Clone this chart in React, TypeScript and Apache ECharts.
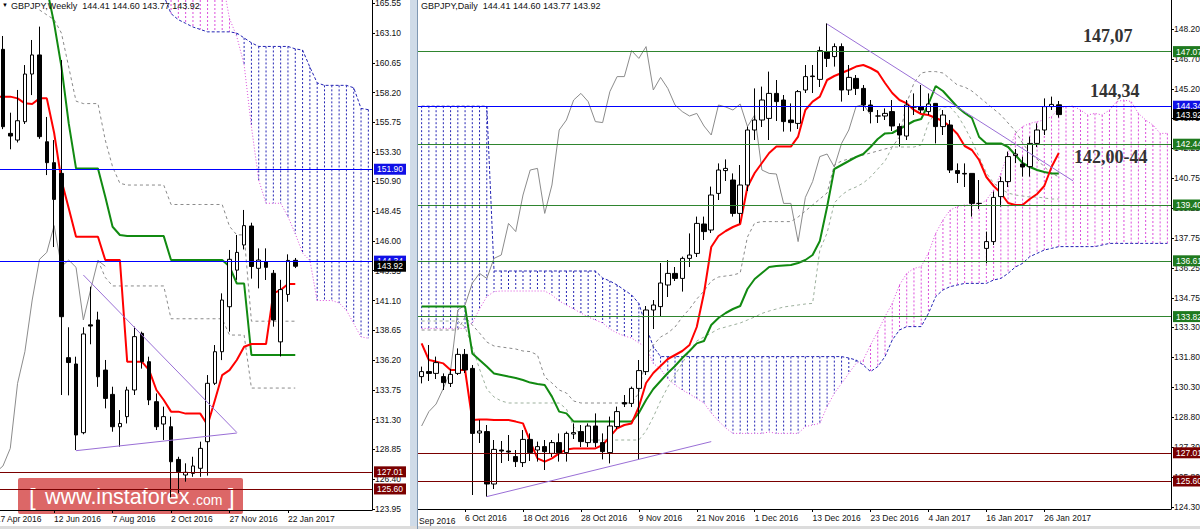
import React, { useEffect, useRef } from 'react';
import * as echarts from 'echarts';

const FONT = '"Liberation Sans", Arial, Helvetica, sans-serif';

const symbolName = 'GBPJPY';
const currentOHLC = [144.41, 144.6, 143.77, 143.92];

// ---------------- WEEKLY ----------------
const weeklyCats = [
  '17 Apr 2016', '24 Apr 2016', '1 May 2016', '8 May 2016', '15 May 2016', '22 May 2016', '29 May 2016', '5 Jun 2016',
  '12 Jun 2016', '19 Jun 2016', '26 Jun 2016', '3 Jul 2016', '10 Jul 2016', '17 Jul 2016', '24 Jul 2016', '31 Jul 2016',
  '7 Aug 2016', '14 Aug 2016', '21 Aug 2016', '28 Aug 2016', '4 Sep 2016', '11 Sep 2016', '18 Sep 2016', '25 Sep 2016',
  '2 Oct 2016', '9 Oct 2016', '16 Oct 2016', '23 Oct 2016', '30 Oct 2016', '6 Nov 2016', '13 Nov 2016', '20 Nov 2016',
  '27 Nov 2016', '4 Dec 2016', '11 Dec 2016', '18 Dec 2016', '25 Dec 2016', '1 Jan 2017', '8 Jan 2017', '15 Jan 2017',
  '22 Jan 2017', '29 Jan 2017',
  '5 Feb 2017', '12 Feb 2017', '19 Feb 2017', '26 Feb 2017', '5 Mar 2017', '12 Mar 2017', '19 Mar 2017', '26 Mar 2017',
  '2 Apr 2017', '9 Apr 2017',
];
const weeklyLabelIdx = [0, 8, 16, 24, 32, 40];
const weeklyYTicks = [123.95, 126.4, 128.85, 131.3, 133.75, 136.2, 138.65, 141.1, 143.55, 146.0, 148.45, 150.9, 153.3, 155.75, 158.2, 160.65, 163.1, 165.55];
const weeklyYRange = [123.87, 165.82];
// weekly candles from 24 Apr 2016 (category 1): [open, high, low, close]
const weeklyOHLC = [
  [161.76, 162.86, 155.2, 155.4], [154.85, 156.55, 153.54, 154.63], [154.3, 158.42, 154.1, 155.89], [155.81, 160.47, 155.62, 159.73],
  [159.73, 162.53, 158.0, 161.3], [161.3, 163.63, 154.4, 154.58], [154.16, 156.2, 151.42, 152.44], [152.44, 154.3, 145.5, 149.42],
  [151.56, 160.88, 133.33, 139.77], [136.4, 138.9, 133.3, 136.0], [135.88, 136.48, 128.8, 130.04], [130.23, 138.9, 130.1, 138.35],
  [139.1, 142.24, 137.5, 139.0], [139.5, 140.18, 134.0, 134.83], [135.38, 136.21, 132.23, 133.05], [133.38, 134.01, 130.31, 130.72],
  [130.72, 132.09, 129.08, 130.99], [131.55, 134.01, 130.99, 133.74], [133.74, 138.95, 133.33, 138.13], [138.4, 138.54, 135.5, 136.07],
  [136.07, 136.48, 132.5, 132.92], [132.78, 133.46, 130.45, 130.72], [130.94, 132.37, 129.63, 131.55], [130.72, 131.55, 124.9, 127.84],
  [128.03, 128.25, 125.24, 127.02], [126.75, 127.71, 126.2, 126.97], [126.88, 128.25, 126.6, 127.49], [127.3, 129.49, 126.6, 128.94],
  [129.49, 134.97, 126.7, 134.29], [134.29, 137.44, 134.15, 136.89], [136.89, 141.69, 136.2, 141.14], [140.59, 145.26, 138.54, 144.49],
  [143.6, 146.49, 142.8, 145.06], [145.67, 148.55, 145.3, 147.26], [147.23, 147.5, 142.9, 143.9], [143.75, 145.39, 142.1, 144.43],
  [144.3, 145.39, 142.79, 143.83], [143.34, 143.61, 138.95, 139.5], [137.7, 142.8, 136.5, 142.0], [141.6, 144.9, 141.0, 144.4],
  [144.41, 144.6, 143.77, 143.92],
];
const weeklyTenkan = [
  157.87, 157.87, 157.87, 157.73, 157.32, 157.27, 157.73, 157.73, 154.9, 151.0, 148.7, 146.35, 146.35, 146.35, 146.35,
  144.43, 144.43, 144.43, 136.07, 136.07, 136.07, 135.38, 133.74, 132.92, 131.96, 131.96, 131.8, 131.8, 131.8, 130.86,
  132.9, 134.97, 135.38, 136.21, 137.3, 137.52, 137.52, 137.52, 141.69, 141.97, 142.46, 142.46,
];
const weeklyKijunStart = 7;
const weeklyKijun = [
  166.8, 163.9, 160.34, 155.67, 151.97, 151.97, 151.97, 151.97, 149.64, 147.17, 146.49, 146.4, 146.4, 146.4, 146.4,
  146.4, 146.4, 144.43, 144.43, 144.43, 144.43, 144.43, 144.43, 144.43, 144.43, 143.9, 142.5, 142.5, 136.62, 136.62,
  136.62, 136.62, 136.62, 136.62, 136.62,
];
const weeklyCloudStart = 23;
const weeklySpanBlue = [
  166.2, 164.7, 164.2, 163.9, 163.6, 163.4, 163.2, 163.2, 163.2, 163.2, 163.1, 162.7, 162.3, 162.0, 162.0, 162.0, 162.0,
  162.0, 161.8, 161.7, 160.3, 159.0, 158.8, 158.8, 158.8, 158.8, 158.6, 156.9, 156.8,
];
const weeklySpanPink = [
  168.5, 167.5, 167.5, 167.5, 167.5, 167.5, 167.5, 167.5, 167.5, 164.3, 162.8, 160.5, 155.4, 151.0, 149.1, 149.1, 149.1,
  148.0, 146.6, 145.0, 144.4, 141.1, 141.1, 141.1, 140.9, 140.3, 139.2, 138.1, 138.0,
];
const weeklyDash1Start = 6;
const weeklyDash1 = [
  165.0, 164.6, 164.2, 163.1, 160.3, 157.5, 157.3, 157.3, 157.3, 154.3, 152.1, 150.74, 150.6, 150.6, 150.6, 150.6, 150.6,
  150.6, 149.0, 149.0, 149.0, 149.0, 149.0, 149.0, 149.0, 149.0, 147.2, 146.5, 146.5, 139.4, 139.4, 139.4, 139.4, 139.4,
  139.4, 139.4,
];
const weeklyDash2Start = 14;
const weeklyDash2 = [
  144.4, 143.0, 142.3, 142.3, 142.3, 142.3, 142.3, 142.3, 142.3, 142.3, 139.6, 139.6, 139.6, 139.6, 139.6, 139.6, 139.6,
  139.6, 138.26, 138.26, 138.26, 133.9, 133.9, 133.9, 133.9, 133.9, 133.9, 133.9,
];
const weeklyBlueLevels = [151.9, 144.34];
const weeklyRedLevels = [127.01, 125.6];
const weeklyTrendLines = [[12, 143.2, 33, 130.25], [11, 128.75, 33, 130.2]];

// ---------------- DAILY ----------------
const dailyMonths: [string, number[]][] = [
  ['Sep 2016', [28, 29, 30]],
  ['Oct 2016', [3, 4, 5, 6, 7, 10, 11, 12, 13, 14, 17, 18, 19, 20, 21, 24, 25, 26, 27, 28, 31]],
  ['Nov 2016', [1, 2, 3, 4, 7, 8, 9, 10, 11, 14, 15, 16, 17, 18, 21, 22, 23, 24, 25, 28, 29, 30]],
  ['Dec 2016', [1, 2, 5, 6, 7, 8, 9, 12, 13, 14, 15, 16, 19, 20, 21, 22, 23, 26, 27, 28, 29, 30]],
  ['Jan 2017', [2, 3, 4, 5, 6, 9, 10, 11, 12, 13, 16, 17, 18, 19, 20, 23, 24, 25, 26, 27, 30]],
];
const dailyFutureCount = 15;
const dailyLabelIdx = [6, 14, 22, 30, 38, 46, 54, 62, 70, 78, 86];
const dailyYTicks = [124.3, 125.8, 127.3, 128.8, 130.3, 131.8, 133.3, 134.75, 136.25, 137.75, 139.25, 140.75, 142.25, 143.75, 145.2, 146.7, 148.2];
const dailyYRange = [124.2, 149.65];
const dailyOHLC = [
  [130.82, 131.32, 130.48, 131.07], [131.07, 132.4, 130.6, 130.98], [130.98, 131.82, 130.7, 131.52], [130.82, 130.98, 130.15, 130.52],
  [130.48, 131.2, 130.3, 130.93], [130.98, 132.23, 130.9, 131.93], [131.93, 132.2, 131.0, 131.15], [131.23, 131.4, 124.9, 127.98],
  [128.0, 128.65, 127.5, 128.1], [128.07, 128.4, 124.82, 125.45], [125.45, 127.65, 125.2, 127.18], [127.15, 127.6, 126.5, 127.1],
  [127.1, 127.9, 126.6, 127.05], [126.82, 127.15, 126.3, 126.57], [126.52, 128.15, 126.3, 127.68], [127.68, 127.98, 126.6, 127.02],
  [127.15, 127.57, 126.57, 127.32], [127.32, 127.65, 126.15, 127.07], [126.98, 127.65, 126.8, 127.52], [127.52, 127.98, 126.57, 127.02],
  [127.02, 128.07, 126.57, 127.98], [127.95, 128.48, 127.7, 128.02], [128.07, 128.4, 127.3, 127.57], [127.52, 128.48, 127.3, 128.35],
  [128.35, 128.98, 127.3, 127.52], [127.52, 127.98, 126.68, 127.07], [127.02, 128.82, 126.48, 128.35], [128.32, 129.32, 128.2, 129.07],
  [129.52, 129.9, 129.3, 129.45], [129.48, 130.32, 129.3, 130.23], [130.23, 131.65, 126.65, 131.12], [131.07, 134.35, 130.9, 134.15],
  [134.15, 134.65, 133.2, 134.4], [134.32, 136.5, 133.8, 135.5], [135.4, 136.65, 134.8, 135.98], [135.98, 136.3, 135.6, 135.73],
  [135.73, 136.82, 135.07, 136.73], [136.73, 137.98, 136.3, 136.9], [136.98, 138.82, 136.8, 138.48], [138.45, 138.82, 137.65, 138.07],
  [138.15, 140.32, 138.0, 139.9], [139.98, 141.48, 139.65, 141.15], [141.12, 141.68, 140.6, 141.23], [140.65, 140.98, 138.82, 138.98],
  [138.98, 141.4, 138.48, 140.4], [140.4, 143.32, 140.1, 143.15], [143.15, 145.23, 142.65, 143.65], [143.65, 145.32, 143.3, 144.65],
  [143.73, 146.07, 142.65, 144.98], [144.98, 145.65, 143.6, 144.57], [144.65, 144.9, 143.07, 143.57], [143.65, 144.48, 143.07, 143.52],
  [143.48, 145.15, 143.2, 145.07], [145.15, 146.4, 145.0, 145.82], [145.85, 146.4, 145.0, 145.82], [145.68, 147.32, 145.3, 147.12],
  [147.07, 148.48, 146.3, 146.73], [146.82, 147.48, 146.32, 147.32], [147.32, 147.48, 144.57, 145.15], [145.15, 146.4, 144.9, 145.78],
  [145.73, 145.9, 144.9, 145.23], [145.23, 145.4, 144.1, 144.4], [144.4, 144.65, 143.48, 144.07], [143.85, 144.15, 143.5, 143.85],
  [143.85, 144.23, 143.65, 143.98], [144.07, 144.65, 143.1, 143.35], [143.32, 143.48, 142.32, 142.9], [142.85, 144.65, 142.65, 144.4],
  [144.3, 144.98, 143.9, 144.3], [144.32, 145.4, 144.0, 144.15], [144.07, 144.98, 143.9, 144.45], [144.48, 144.5, 142.48, 143.32],
  [143.32, 144.15, 142.9, 143.9], [143.4, 143.65, 141.0, 141.15], [141.12, 141.48, 140.5, 140.98], [140.98, 141.48, 140.3, 140.95],
  [140.98, 140.98, 138.82, 139.48], [139.48, 140.65, 139.2, 139.48], [137.23, 138.07, 136.48, 137.57], [137.57, 140.07, 137.4, 139.78],
  [139.82, 140.82, 139.32, 140.57], [140.57, 142.07, 140.3, 141.82], [141.87, 142.2, 141.5, 141.95], [141.45, 141.82, 140.82, 141.3],
  [141.32, 142.82, 140.82, 142.48], [142.48, 143.48, 142.3, 143.15], [143.15, 144.73, 142.9, 144.32], [144.32, 144.82, 144.15, 144.43],
  [144.41, 144.6, 143.77, 143.92],
];
const dailyTenkan = [
  132.48, 131.65, 131.57, 131.48, 131.15, 131.15, 131.15, 128.65, 128.68, 128.68, 128.65, 128.65, 128.65, 128.57, 128.48,
  127.57, 126.73, 126.57, 126.73, 126.98, 127.18, 127.23, 127.23, 127.23, 127.23, 127.4, 127.82, 128.23, 128.4, 128.48,
  129.3, 130.5, 131.0, 131.35, 131.7, 131.9, 132.1, 132.4, 133.3, 135.0, 137.3, 137.85, 138.1, 138.3, 138.45, 140.3, 141.0,
  141.5, 142.0, 142.32, 142.32, 142.32, 142.82, 144.15, 144.57, 144.82, 145.65, 145.85, 146.0, 146.15, 146.32, 146.4,
  146.25, 146.05, 145.5, 145.0, 144.65, 144.48, 144.15, 143.95, 143.9, 143.75, 143.6, 143.32, 142.95, 142.35, 142.15,
  141.65, 140.8, 140.35, 140.0, 139.5, 139.4, 139.4, 139.7, 139.95, 140.35, 141.3, 142.0,
];
const dailyKijun = [
  134.32, 134.32, 134.32, 134.32, 134.32, 134.32, 134.32, 131.98, 131.65, 131.32, 130.98, 130.9, 130.82, 130.75, 130.65,
  130.52, 130.45, 130.4, 129.82, 129.07, 128.98, 128.57, 128.57, 128.57, 128.57, 128.57, 128.57, 128.57, 128.57, 128.57,
  129.0, 129.65, 130.2, 130.6, 131.0, 131.35, 131.75, 132.1, 132.48, 132.6, 133.4, 133.75, 134.0, 134.2, 134.35, 135.2,
  135.7, 136.0, 136.3, 136.35, 136.38, 136.4, 136.5, 136.65, 136.9, 137.6, 139.3, 141.2, 141.4, 141.6, 141.8, 141.95,
  142.3, 142.7, 142.98, 143.0, 143.2, 143.4, 143.6, 143.7, 144.45, 145.35, 145.1, 144.7, 144.3, 144.0, 143.75, 142.8,
  142.48, 142.48, 142.48, 142.3, 141.9, 141.5, 141.3, 141.15, 141.05, 140.98, 140.98,
];
const dailySpanBlue = [
  144.34, 144.34, 144.34, 144.34, 144.34, 144.34, 144.34, 144.34, 144.34, 144.34,
  136.1, 136.1, 136.1, 136.1, 136.1, 136.1, 136.1, 136.1, 136.1, 136.1, 136.1, 136.1, 136.1, 136.1, 136.1,
  135.75, 135.6, 135.4, 135.15, 134.9, 134.48, 133.32, 132.32,
  131.82, 131.82, 131.82, 131.82, 131.82, 131.82, 131.82, 131.82, 131.82, 131.82, 131.82, 131.82, 131.82, 131.82, 131.82,
  131.82, 131.82, 131.82, 131.82, 131.82, 131.82, 131.82, 131.82, 131.82, 131.82, 131.82,
  131.75, 131.65, 131.4, 131.07,
  131.32, 131.82, 132.65, 133.15, 133.32, 133.32, 133.32,
  133.98, 134.82, 135.15, 135.32, 135.4,
  135.48, 135.48, 135.48, 135.48,
  135.65, 135.73, 135.98, 136.3, 136.48, 136.82, 136.98, 137.15, 137.23,
  137.32, 137.32, 137.32, 137.32, 137.32, 137.32,
  137.4,
  137.48, 137.48, 137.48, 137.48, 137.48, 137.48, 137.48, 137.48, 137.48,
];
const dailySpanPink = [
  133.23, 133.23, 133.23, 133.23, 133.23, 133.23, 133.23,
  133.5, 134.2, 134.82, 135.07,
  135.1, 135.1, 135.1, 135.1, 135.1, 135.1, 135.1,
  134.9, 134.6, 134.4, 134.2, 134.0, 133.8, 133.65, 133.5, 133.2, 133.0, 132.85, 132.75, 132.5, 132.3,
  131.48, 131.2, 130.7, 130.4, 130.15, 129.95, 129.73, 129.5, 129.0, 128.6, 128.25,
  127.98, 127.98, 127.98, 127.98, 127.98, 128.05, 127.98, 127.98, 127.98, 127.98,
  128.32, 128.4, 128.48, 129.32, 129.98, 130.48, 130.98, 131.48, 131.65, 132.4, 133.07, 133.82, 134.48, 135.4, 135.98,
  136.23, 136.32,
  137.0, 137.98, 138.65, 139.15, 139.32, 139.4, 139.4, 139.4, 139.65, 140.15, 140.98, 141.98, 142.98, 143.32, 143.48,
  143.57, 143.65, 143.82,
  144.23, 144.32, 144.35, 144.15, 143.9, 143.98, 143.9, 144.15, 144.57, 144.65, 144.57, 143.98, 143.65, 143.4, 142.98,
  142.98,
];
const dailyDash1 = [
  133.15, 133.15, 133.15, 133.15, 133.15, 133.15, 133.8, 133.4, 133.0, 132.55, 132.35, 132.3, 132.25, 132.2, 132.1,
  132.07, 131.9, 130.8, 130.5, 130.15, 130.0, 129.6, 129.5, 129.5, 129.5, 129.5, 129.5, 129.5, 129.5, 129.5, 130.0,
  131.8, 132.4, 132.8, 133.0, 133.3, 133.8, 134.2, 134.7, 135.1, 135.6, 135.8, 135.85, 135.9, 136.0, 137.8, 138.5,
  138.57, 138.57, 138.57, 138.57, 138.57, 138.8, 139.1, 139.4, 139.7, 140.0, 141.4, 141.6, 141.7, 141.8, 141.9, 142.0,
  142.1, 142.2, 142.3, 142.8, 144.5, 145.5, 146.0, 146.07, 146.07, 146.0, 145.7, 145.4, 145.3, 145.1, 144.8, 144.5,
  144.2, 143.9, 143.5, 143.1, 142.5, 142.0, 141.7, 141.3, 141.0, 140.8,
];
const dailyDash2 = [
  133.6, 133.6, 133.6, 133.6, 133.6, 133.6, 133.3, 132.3, 131.2, 130.2, 129.8, 129.6, 129.5, 129.5, 129.5, 129.5, 129.5,
  129.5, 129.5, 129.5, 129.2, 128.3, 127.9, 127.65, 127.65, 127.65, 127.65, 127.65, 127.65, 127.65, 127.65, 128.1, 128.8,
  129.6, 130.3, 130.9, 131.5, 132.1, 132.6, 132.8, 133.0, 133.2, 133.3, 133.4, 133.5, 133.65, 133.8, 133.98, 134.1,
  134.2, 134.3, 134.35, 134.4, 134.45, 134.48, 137.15, 138.0, 139.5, 139.9, 140.15, 140.3, 140.5, 140.8, 141.2, 141.6,
  142.3, 142.3, 142.3, 142.3, 142.4, 143.5, 144.0, 144.3, 144.3, 143.9, 143.3, 142.6, 141.8, 141.0, 140.5, 140.2,
  140.0, 139.9, 139.85, 139.8, 139.8, 139.75, 139.7, 139.7,
];
const dailyGreenLevels = [147.07, 142.44, 139.4, 136.61, 133.82];
const dailyBlueLevels = [144.34];
const dailyRedLevels = [127.01, 125.6];
const dailyTrendLines = [[56, 148.45, 90, 140.6], [9, 124.82, 40, 127.57]];
const dailyNotes = ['147,07', '144,34', '142,00-44'];

// ---------------- helpers ----------------
const C_RED = '#ff0000';
const C_KIJUN = '#118a11';
const C_CHIKOU = '#8c8c8c';
const C_BLUE = '#2424b4';
const C_PINK = '#dc4fdc';
const C_LEVEL_BLUE = '#0000ff';
const C_LEVEL_RED = '#7a0000';
const C_LEVEL_GREEN = '#2f852f';
const C_TREND = '#9a6fd6';

const pad = (len: number, start: number, vals: number[]) => {
  const a: any[] = new Array(len).fill('-');
  vals.forEach((v, j) => { if (start + j < len) a[start + j] = v; });
  return a;
};

const hatchData = (blue: any[], pink: any[], lo: number, hi: number) => {
  const out: number[][] = [];
  for (let k = 0; k < blue.length; k++) {
    const a = blue[k];
    const b = pink[k];
    if (typeof a !== 'number' || typeof b !== 'number') continue;
    const top = Math.min(Math.max(a, b), hi);
    const bot = Math.max(Math.min(a, b), lo);
    if (top <= bot) continue;
    out.push([k, top, bot, a >= b ? 1 : 0]);
  }
  return out;
};

const hatchSeries = (xi: number, data: number[][]) => ({
  type: 'custom',
  xAxisIndex: xi,
  yAxisIndex: xi,
  silent: true,
  clip: true,
  z: 1,
  encode: { x: 0, y: [1, 2] },
  data,
  renderItem: (params: any, api: any) => {
    const p1 = api.coord([api.value(0), api.value(1)]);
    const p2 = api.coord([api.value(0), api.value(2)]);
    return {
      type: 'line',
      shape: { x1: p1[0], y1: p1[1], x2: p2[0], y2: p2[1] },
      style: { stroke: api.value(3) ? C_BLUE : C_PINK, lineWidth: 1, lineDash: [2, 2], fill: null },
    };
  },
});

const lineSeries = (xi: number, data: any[], color: string, width: number, dash?: number[], extra: any = {}) => ({
  type: 'line',
  xAxisIndex: xi,
  yAxisIndex: xi,
  data,
  symbol: 'none',
  showSymbol: false,
  silent: true,
  clip: true,
  z: 3,
  lineStyle: { color, width, type: dash ? dash : 'solid' },
  ...extra,
});

const levelItem = (v: number, color: string, bg: string) => ({
  yAxis: v,
  lineStyle: { color, width: 1, type: 'solid' },
  label: { backgroundColor: bg },
});

const trendItems = (lines: number[][]) =>
  lines.map((t) => [
    { coord: [t[0], t[1]], lineStyle: { color: C_TREND, width: 1, type: 'solid' }, label: { show: false } },
    { coord: [t[2], t[3]], label: { show: false } },
  ]);

const markLineOf = (items: any[]) => ({
  silent: true,
  symbol: ['none', 'none'],
  animation: false,
  label: {
    show: true,
    position: 'end',
    distance: 2,
    formatter: (p: any) => Number(p.value).toFixed(2),
    color: '#ffffff',
    fontSize: 8.5,
    fontFamily: FONT,
    padding: [1, 3, 0, 3],
    lineHeight: 10,
  },
  data: items,
});

const xAxisOf = (gi: number, cats: string[], labelIdx: number[]) => ({
  type: 'category',
  gridIndex: gi,
  data: cats,
  boundaryGap: true,
  axisLine: { show: true, onZero: false, lineStyle: { color: '#000', width: 1 } },
  axisTick: {
    show: true,
    alignWithLabel: true,
    length: 3,
    interval: (i: number) => labelIdx.includes(i),
    lineStyle: { color: '#000' },
  },
  axisLabel: {
    interval: (i: number) => labelIdx.includes(i),
    align: 'left',
    margin: 4,
    fontSize: 8.5,
    fontFamily: FONT,
    color: '#111',
  },
  splitLine: { show: false },
});

const yAxisOf = (gi: number, range: number[], ticks: number[]) => ({
  type: 'value',
  gridIndex: gi,
  position: 'right',
  min: range[0],
  max: range[1],
  scale: true,
  axisLine: { show: true, onZero: false, lineStyle: { color: '#000', width: 1 } },
  axisTick: { show: true, length: 3, customValues: ticks, lineStyle: { color: '#000' } },
  axisLabel: {
    show: true,
    customValues: ticks,
    formatter: (v: number) => v.toFixed(2),
    fontSize: 8.5,
    fontFamily: FONT,
    color: '#111',
    margin: 3,
  },
  splitLine: { show: false },
});

function buildOption() {
  const wLen = weeklyCats.length;
  const dailyDates = dailyMonths.flatMap(([m, ds]) => ds.map((d) => `${d} ${m}`));
  const dailyCats = [...dailyDates, ...Array.from({ length: dailyFutureCount }, (_, j) => `+${j + 1}`)];
  const dLen = dailyCats.length;

  const wCandles = [['-', '-', '-', '-'], ...weeklyOHLC.map(([o, h, l, c]) => [o, c, l, h])];
  const wCloses = ['-', ...weeklyOHLC.map((r) => r[3])];
  const wChikou = wCloses.slice(26).filter((v) => v !== '-');
  const wBlue = pad(wLen, weeklyCloudStart, weeklySpanBlue);
  const wPink = pad(wLen, weeklyCloudStart, weeklySpanPink);

  const dCandles = dailyOHLC.map(([o, h, l, c]) => [o, c, l, h]);
  const dChikou = dailyOHLC.slice(26).map((r) => r[3]);
  const dBlue = dailySpanBlue.slice(0, dLen);
  const dPink = dailySpanPink.slice(0, dLen);

  const cur = currentOHLC[3];
  const ohlcText = currentOHLC.map((v) => v.toFixed(2)).join(' ');

  const candleStyle = {
    color: '#ffffff',
    color0: '#000000',
    borderColor: '#000000',
    borderColor0: '#000000',
    borderWidth: 1,
  };

  const weeklyLevels = [
    ...weeklyBlueLevels.map((v) => levelItem(v, C_LEVEL_BLUE, '#1010e6')),
    ...weeklyRedLevels.map((v) => levelItem(v, C_LEVEL_RED, '#7a0000')),
    levelItem(cur, 'rgba(0,0,0,0)', '#000000'),
  ];
  const dailyLevels = [
    ...dailyGreenLevels.map((v) => levelItem(v, C_LEVEL_GREEN, '#1f7a1f')),
    ...dailyBlueLevels.map((v) => levelItem(v, C_LEVEL_BLUE, '#1010e6')),
    ...dailyRedLevels.map((v) => levelItem(v, C_LEVEL_RED, '#7a0000')),
    levelItem(cur, 'rgba(0,0,0,0)', '#000000'),
  ];

  const noteStyle = { font: 'bold 18px "Liberation Serif", "Times New Roman", serif', fill: '#333333' };
  const notePos = [[1083, 36], [1090, 91], [1074, 157]];

  return {
    animation: false,
    backgroundColor: '#ffffff',
    textStyle: { fontFamily: FONT },
    title: [
      {
        text: `${symbolName},Weekly  ${ohlcText}`,
        left: 11,
        top: 0,
        padding: [1, 0, 0, 0],
        textStyle: { fontSize: 9, fontWeight: 'normal', color: '#111', fontFamily: FONT },
      },
      {
        text: `${symbolName},Daily  ${ohlcText}`,
        left: 421,
        top: 0,
        padding: [1, 0, 0, 0],
        textStyle: { fontSize: 9, fontWeight: 'normal', color: '#111', fontFamily: FONT },
      },
    ],
    grid: [
      { left: -8, top: 0, width: 380, height: 510, outerBoundsMode: 'none', containLabel: false },
      { left: 418, top: 0, width: 753, height: 509, outerBoundsMode: 'none', containLabel: false },
    ],
    xAxis: [xAxisOf(0, weeklyCats, weeklyLabelIdx), xAxisOf(1, dailyCats, dailyLabelIdx)],
    yAxis: [yAxisOf(0, weeklyYRange, weeklyYTicks), yAxisOf(1, dailyYRange, dailyYTicks)],
    series: [
      // weekly
      hatchSeries(0, hatchData(wBlue, wPink, weeklyYRange[0], weeklyYRange[1])),
      lineSeries(0, wBlue, C_BLUE, 1, [3, 2]),
      lineSeries(0, wPink, C_PINK, 1, [1, 2]),
      lineSeries(0, pad(wLen, weeklyDash1Start, weeklyDash1), '#8a8a8a', 1, [3, 3]),
      lineSeries(0, pad(wLen, weeklyDash2Start, weeklyDash2), '#8a8a8a', 1, [3, 3]),
      lineSeries(0, wChikou, C_CHIKOU, 1),
      lineSeries(0, pad(wLen, weeklyKijunStart, weeklyKijun), C_KIJUN, 2),
      lineSeries(0, weeklyTenkan, C_RED, 2, undefined, {
        markLine: markLineOf([...weeklyLevels, ...trendItems(weeklyTrendLines)]),
      }),
      {
        type: 'candlestick',
        xAxisIndex: 0,
        yAxisIndex: 0,
        data: wCandles,
        barWidth: 4,
        silent: true,
        z: 4,
        itemStyle: candleStyle,
      },
      // daily
      hatchSeries(1, hatchData(dBlue, dPink, dailyYRange[0], dailyYRange[1])),
      lineSeries(1, dBlue, C_BLUE, 1, [3, 2]),
      lineSeries(1, dPink, C_PINK, 1, [1, 2]),
      lineSeries(1, dailyDash1, '#8a8a8a', 1, [3, 3]),
      lineSeries(1, dailyDash2, '#9db09d', 1, [3, 3]),
      lineSeries(1, dChikou, C_CHIKOU, 1),
      lineSeries(1, dailyKijun, C_KIJUN, 2),
      lineSeries(1, dailyTenkan, C_RED, 2, undefined, {
        markLine: markLineOf([...dailyLevels, ...trendItems(dailyTrendLines)]),
      }),
      {
        type: 'candlestick',
        xAxisIndex: 1,
        yAxisIndex: 1,
        data: dCandles,
        barWidth: 5,
        silent: true,
        z: 4,
        itemStyle: candleStyle,
      },
    ],
    graphic: [
      { type: 'text', x: 2, y: 5, z: 50, style: { text: '\u25BC', fontSize: 6, fill: '#000', verticalAlign: 'middle' } },
      ...dailyNotes.map((t, j) => ({
        type: 'text',
        x: notePos[j][0],
        y: notePos[j][1],
        z: 50,
        style: { text: t, ...noteStyle, verticalAlign: 'middle' },
      })),
      { type: 'rect', z: 60, shape: { x: 410, y: 0, width: 7, height: 529 }, style: { fill: '#cfdbe8' } },
      { type: 'line', z: 61, shape: { x1: 417.5, y1: 0, x2: 417.5, y2: 529 }, style: { stroke: '#7f98b3', lineWidth: 1 } },
      { type: 'rect', z: 60, shape: { x: 0, y: 526, width: 1200, height: 3 }, style: { fill: '#dcdcdc' } },
      {
        type: 'text', x: 419, y: 521, z: 50,
        style: { text: 'Sep 2016', fontSize: 8.5, fontFamily: FONT, fill: '#111', verticalAlign: 'middle' },
      },
      {
        type: 'group',
        z: 80,
        children: [
          { type: 'rect', shape: { x: 18, y: 478, width: 225, height: 36, r: 2 }, style: { fill: '#d95a5a', opacity: 0.92 } },
          { type: 'text', x: 29, y: 496, style: { text: '[', fontSize: 24, fontFamily: FONT, fill: '#ffffff', verticalAlign: 'middle' } },
          { type: 'text', x: 45, y: 497, style: { text: 'www.instaforex', fontSize: 21.5, fontFamily: FONT, fill: '#ffffff', verticalAlign: 'middle' } },
          { type: 'text', x: 192, y: 500, style: { text: '.com', fontSize: 14, fontFamily: FONT, fill: '#ffffff', verticalAlign: 'middle' } },
          { type: 'text', x: 228, y: 496, style: { text: ']', fontSize: 24, fontFamily: FONT, fill: '#ffffff', verticalAlign: 'middle' } },
        ],
      },
    ],
  };
}

export default function App() {
  const ref = useRef<HTMLDivElement>(null);
  useEffect(() => {
    if (!ref.current) return;
    const chart = echarts.init(ref.current, null, { renderer: 'svg' });
    chart.setOption(buildOption() as any);
    return () => chart.dispose();
  }, []);
  return (
    <div
      ref={ref}
      style={{ position: 'fixed', left: 0, top: 0, width: 1200, height: 529, background: '#ffffff' }}
    />
  );
}
